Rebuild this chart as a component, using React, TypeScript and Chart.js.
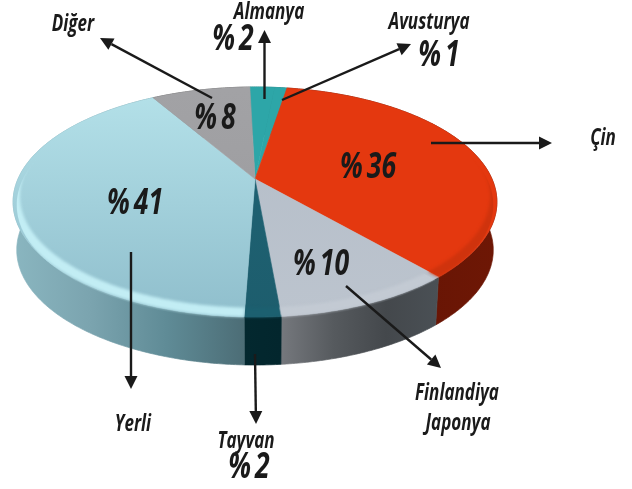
import React, { useEffect, useRef } from "react";
import { Chart, registerables } from "chart.js";

Chart.register(...registerables);

const categories = ["Almanya", "Avusturya", "Çin", "Finlandiya Japonya", "Tayvan", "Yerli", "Diğer"];
const shares = [2, 1, 36, 10, 2, 41, 8];
const faceTop = ["#2da6a8", "#2da6a8", "#e4380f", "#b4bdc8", "#1f6475", "#b4e1e9", "#a2a2a5"];
const faceBottom = ["#2da6a8", "#2da6a8", "#e4380f", "#bcc4ce", "#1d5d6d", "#8fbecc", "#9a9a9d"];
const bevels = ["#2da6a8", "#2da6a8", "#cf330d", "#c3cad3", "#1c6070", "#c2edf4", "#a2a2a5"];
const wallStops = [
  ["#1d7072", "#1d7072"],
  ["#1d7072", "#1d7072"],
  ["#5d1204", "#6e1705"],
  ["#75787d", "#565a5e", "#44484c", "#4a5055"],
  ["#03282f", "#03262d"],
  ["#8ab6c0", "#7ba4af", "#5f8b96", "#4c6d76"],
  ["#555", "#555"],
];

const FONT = '"Open Sans", sans-serif';
const labelTexts = [
  { text: "Almanya", x: 269, y: 12, size: 23 },
  { text: "% 2", x: 233, y: 40, size: 36 },
  { text: "Avusturya", x: 429, y: 22, size: 23 },
  { text: "% 1", x: 439, y: 56, size: 36 },
  { text: "Diğer", x: 73, y: 24, size: 23 },
  { text: "% 8", x: 215, y: 119, size: 36 },
  { text: "% 36", x: 368, y: 168, size: 36 },
  { text: "Çin", x: 603, y: 138, size: 23 },
  { text: "% 10", x: 321, y: 265, size: 36 },
  { text: "Finlandiya", x: 457, y: 393, size: 23 },
  { text: "Japonya", x: 458, y: 423, size: 23 },
  { text: "Tayvan", x: 246, y: 441, size: 23 },
  { text: "% 2", x: 249, y: 468, size: 36 },
  { text: "Yerli", x: 133, y: 424, size: 23 },
  { text: "% 41", x: 135, y: 204, size: 36 },
];
const arrows = [
  [212, 98, 100, 38],
  [264.5, 99, 264.5, 30],
  [282, 100, 411, 44],
  [431, 143, 552, 143],
  [346, 286, 441, 368],
  [255, 354, 256, 424],
  [131, 252, 131, 389],
];

const CX = 255;
const CY = 179;
const K = -0.2;
const RX = 237;
const RY = 110.4;
const DEPTH = 48;
const TEXT_SQUEEZE = 0.74;

function pt(a: number, r = 1, off = 0) {
  const u = r * Math.cos(a);
  const v = r * Math.sin(a);
  const w = 1 + K * v;
  let x = (RX * u) / w;
  const y = (RY * v) / w;
  if (off) x *= 0.985;
  return [CX + x, CY + y + off];
}

function arcPts(s: number, e: number, r = 1, off = 0) {
  const n = Math.max(4, Math.ceil((e - s) / 0.01));
  const out: number[][] = [];
  for (let i = 0; i <= n; i++) out.push(pt(s + ((e - s) * i) / n, r, off));
  return out;
}

function bevelInner(s: number, e: number) {
  const n = Math.max(4, Math.ceil((e - s) / 0.01));
  const out: number[][] = [];
  for (let i = 0; i <= n; i++) {
    const a = s + ((e - s) * i) / n;
    const t = Math.max(0, Math.sin(a) + 0.3) / 1.3;
    out.push(pt(a, 1 - 0.055 * Math.pow(t, 0.7)));
  }
  return out;
}

function poly(ctx: CanvasRenderingContext2D, pts: number[][]) {
  ctx.beginPath();
  pts.forEach((p, i) => (i ? ctx.lineTo(p[0], p[1]) : ctx.moveTo(p[0], p[1])));
  ctx.closePath();
}

const piePlugin = {
  id: "perspectivePie",
  beforeDatasetsDraw(chart: any) {
    const ctx: CanvasRenderingContext2D = chart.ctx;
    const arcs = chart.getDatasetMeta(0).data;
    ctx.save();
    arcs.forEach((arc: any, i: number) => {
      const top = arcPts(arc.startAngle, arc.endAngle);
      const bottom = arcPts(arc.startAngle, arc.endAngle, 1, DEPTH).reverse();
      const xs = top.map((p) => p[0]);
      const g = ctx.createLinearGradient(Math.min(...xs), 0, Math.max(...xs), 0);
      wallStops[i].forEach((c, j) => g.addColorStop(j / (wallStops[i].length - 1), c));
      ctx.fillStyle = g;
      poly(ctx, top.concat(bottom));
      ctx.fill();
      ctx.strokeStyle = g;
      ctx.lineWidth = 0.7;
      ctx.stroke();
    });
    arcs.forEach((arc: any, i: number) => {
      const g = ctx.createLinearGradient(0, 90, 0, 320);
      g.addColorStop(0, faceTop[i]);
      g.addColorStop(1, faceBottom[i]);
      ctx.fillStyle = g;
      poly(ctx, [[CX, CY], ...arcPts(arc.startAngle, arc.endAngle)]);
      ctx.fill();
      ctx.strokeStyle = g;
      ctx.lineWidth = 0.6;
      ctx.stroke();
    });
    arcs.forEach((arc: any, i: number) => {
      const outer = arcPts(arc.startAngle, arc.endAngle, 1);
      const inner = bevelInner(arc.startAngle, arc.endAngle).reverse();
      ctx.save();
      poly(ctx, [[CX, CY], ...arcPts(arc.startAngle, arc.endAngle, 1, 3)]);
      ctx.clip();
      ctx.filter = "blur(1.5px)";
      ctx.fillStyle = bevels[i];
      poly(ctx, outer.concat(inner));
      ctx.fill();
      ctx.restore();
    });
    ctx.restore();
    return false;
  },
  afterDraw(chart: any) {
    const ctx: CanvasRenderingContext2D = chart.ctx;
    ctx.save();
    ctx.fillStyle = "#1a1a1a";
    ctx.strokeStyle = "#1a1a1a";
    arrows.forEach(([x1, y1, x2, y2]) => {
      const a = Math.atan2(y2 - y1, x2 - x1);
      const L = 13;
      const bx = x2 - L * Math.cos(a);
      const by = y2 - L * Math.sin(a);
      ctx.lineWidth = 2.4;
      ctx.beginPath();
      ctx.moveTo(x1, y1);
      ctx.lineTo(bx, by);
      ctx.stroke();
      ctx.beginPath();
      ctx.moveTo(x2, y2);
      ctx.lineTo(bx - 6.5 * Math.sin(a), by + 6.5 * Math.cos(a));
      ctx.lineTo(bx + 6.5 * Math.sin(a), by - 6.5 * Math.cos(a));
      ctx.closePath();
      ctx.fill();
    });
    ctx.textAlign = "center";
    ctx.textBaseline = "middle";
    (ctx as any).wordSpacing = "-4px";
    labelTexts.forEach((t) => {
      ctx.save();
      ctx.translate(t.x, t.y);
      ctx.scale(TEXT_SQUEEZE, 1);
      ctx.font = `italic 700 ${t.size}px ${FONT}`;
      ctx.fillText(t.text, 0, 0);
      ctx.restore();
    });
    ctx.restore();
  },
};

export default function App() {
  const ref = useRef<HTMLCanvasElement>(null);
  useEffect(() => {
    const chart = new Chart(ref.current!, {
      type: "pie",
      data: {
        labels: categories,
        datasets: [{ data: shares, backgroundColor: faceBottom, borderWidth: 0 }],
      },
      options: {
        animation: false,
        responsive: false,
        rotation: -1.5,
        plugins: { legend: { display: false }, tooltip: { enabled: false } },
      },
      plugins: [piePlugin],
    } as any);
    return () => chart.destroy();
  }, []);
  return (
    <div style={{ position: "fixed", left: 0, top: 0, width: 632, height: 489, background: "#fff" }}>
      <canvas ref={ref} width={632} height={489} style={{ display: "block" }} />
    </div>
  );
}
